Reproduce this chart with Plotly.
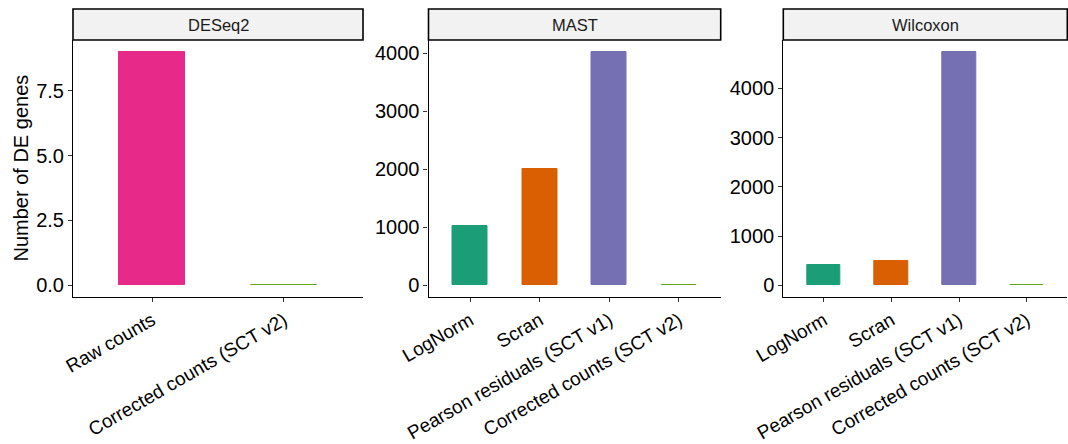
import plotly.graph_objects as go

# ---- data ----
deseq_methods = ["Raw counts", "Corrected counts (SCT v2)"]
deseq_values = [9, 0]

mast_methods = ["LogNorm", "Scran", "Pearson residuals (SCT v1)", "Corrected counts (SCT v2)"]
mast_values = [1015, 2010, 4023, 0]

wilcox_methods = ["LogNorm", "Scran", "Pearson residuals (SCT v1)", "Corrected counts (SCT v2)"]
wilcox_values = [405, 487, 4744, 0]

panel_titles = ["DESeq2", "MAST", "Wilcoxon"]
y_title = "Number of DE genes"

method_colors = {
    "LogNorm": "#1B9E77",
    "Scran": "#D95F02",
    "Pearson residuals (SCT v1)": "#7570B3",
    "Raw counts": "#E7298A",
    "Corrected counts (SCT v2)": "#66A61E",
}

W, H = 1068, 444
FONT = "Liberation Sans, Arial, sans-serif"

# panel geometry in pixels
panels_px = [(73, 363), (428.5, 720.7), (783.3, 1067.3)]
panel_top, panel_bottom = 40, 297
strip_top = 9

ydom = [1 - panel_bottom / H, 1 - panel_top / H]

fig = go.Figure()
datasets = [(deseq_methods, deseq_values), (mast_methods, mast_values), (wilcox_methods, wilcox_values)]

layout_axes = {}
shapes = []
annotations = []
for i, ((methods, values), (x0, x1)) in enumerate(zip(datasets, panels_px)):
    idx = "" if i == 0 else str(i + 1)
    cols = [method_colors[m] for m in methods]
    fig.add_trace(go.Bar(
        x=methods, y=values, width=0.5,
        marker=dict(color=cols, line=dict(color=cols, width=1)),
        xaxis="x" + idx, yaxis="y" + idx, showlegend=False, hoverinfo="skip",
    ))
    vmax = max(values)
    n = len(methods)
    xd = [x0 / W, x1 / W]
    layout_axes["xaxis" + idx] = dict(
        domain=xd, anchor="y" + idx, type="category",
        range=[-0.6, n - 0.4], automargin=False,
        showline=True, linecolor="black", linewidth=1.1, mirror=False,
        ticks="outside", ticklen=4, tickwidth=1, tickcolor="#333333",
        tickangle=-30, showgrid=False, zeroline=False,
        tickfont=dict(family=FONT, size=19, color="black"),
        fixedrange=True,
    )
    if i == 0:
        ytick = dict(tick0=0, dtick=2.5, tickformat=".1f")
    else:
        ytick = dict(tick0=0, dtick=1000)
    layout_axes["yaxis" + idx] = dict(
        domain=ydom, anchor="x" + idx, automargin=False,
        range=[-0.05 * vmax, 1.05 * vmax],
        showline=True, linecolor="black", linewidth=1.1,
        ticks="outside", ticklen=4, tickwidth=1, tickcolor="#333333",
        showgrid=False, zeroline=False,
        tickfont=dict(family=FONT, size=20, color="black"),
        fixedrange=True, **ytick,
    )
    shapes.append(dict(
        type="rect", xref="paper", yref="paper",
        x0=xd[0], x1=xd[1], y0=1 - panel_top / H, y1=1 - strip_top / H,
        fillcolor="#F2F2F2", line=dict(color="black", width=1.6),
    ))
    annotations.append(dict(
        text=panel_titles[i], xref="paper", yref="paper",
        x=(xd[0] + xd[1]) / 2, y=1 - (panel_top + strip_top) / 2 / H,
        xanchor="center", yanchor="middle", showarrow=False,
        font=dict(family=FONT, size=16.5, color="#1A1A1A"),
    ))

annotations.append(dict(
    text=y_title, xref="paper", yref="paper",
    x=21 / W, y=(ydom[0] + ydom[1]) / 2, textangle=-90,
    xanchor="center", yanchor="middle", showarrow=False,
    font=dict(family=FONT, size=20, color="black"),
))

fig.update_layout(
    width=W, height=H,
    margin=dict(l=0, r=0, t=0, b=0, autoexpand=False),
    paper_bgcolor="white", plot_bgcolor="white",
    shapes=shapes, annotations=annotations,
    bargap=0, showlegend=False,
    **layout_axes,
)

fig.write_html("out.html", include_plotlyjs=True, config={"displayModeBar": False})
